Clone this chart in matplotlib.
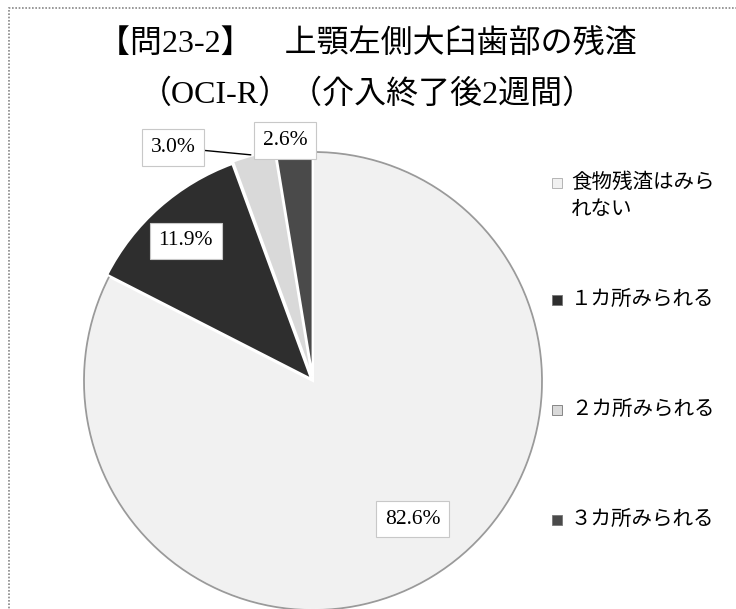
import matplotlib
matplotlib.use("Agg")
import matplotlib.pyplot as plt
from matplotlib.patches import Rectangle, Arc
import numpy as np

# ---- data ----
categories = ['食物残渣はみられない', '１カ所みられる', '２カ所みられる', '３カ所みられる']
legend_labels = ['食物残渣はみら\nれない', '１カ所みられる', '２カ所みられる', '３カ所みられる']
values = [82.6, 11.9, 3.0, 2.6]
pct_labels = ['82.6%', '11.9%', '3.0%', '2.6%']
title_lines = ['【問23-2】　上顎左側大臼歯部の残渣', '（OCI-R）（介入終了後2週間）']

# ---- style ----
colors = ['#f1f1f1', '#2e2e2e', '#d9d9d9', '#4a4a4a']
explode = [0.0, 0.012, 0.02, 0.02]
label_pos = [(0.435, -0.603), (-0.556, 0.612), (-0.612, 1.02), (-0.121, 1.05)]
serif_cjk = ['Liberation Serif', 'Noto Sans CJK JP']
sans_cjk = ['Noto Sans CJK JP', 'DejaVu Sans']

W, H = 736, 609
fig = plt.figure(figsize=(W / 100, H / 100), dpi=100)

# outer frame
fig.patches.append(Rectangle((9 / W, -0.01), 1.0, (H - 8) / H + 0.01, transform=fig.transFigure,
                             fill=False, ec='#888888', lw=1.2, ls=(0, (1, 1))))

cx, cy, r = 313, 381, 229
ax = fig.add_axes([(cx - r) / W, (H - cy - r) / H, 2 * r / W, 2 * r / H])

wedges, _ = ax.pie(values, colors=colors, explode=explode, startangle=90,
                   counterclock=False, radius=1.0,
                   wedgeprops=dict(edgecolor='white', linewidth=1.5))
ax.set_xlim(-1, 1)
ax.set_ylim(-1, 1)
ax.set_aspect('equal')
ax.axis('off')

# grey rim on the big light slice
w0 = wedges[0]
ax.add_patch(Arc(w0.center, 2 * w0.r, 2 * w0.r, theta1=w0.theta1, theta2=w0.theta2,
                 color='#9a9a9a', lw=1.3, clip_on=False))
for w in wedges:
    w.set_clip_on(False)

for i, (w, txt, pos) in enumerate(zip(wedges, pct_labels, label_pos)):
    bbox = dict(boxstyle='square,pad=0.4', fc='white', ec='#c8c8c8', lw=0.8)
    if i == 2:
        ang = np.deg2rad((w.theta1 + w.theta2) / 2)
        tip = (w.center[0] + w.r * np.cos(ang), w.center[1] + w.r * np.sin(ang))
        ax.annotate(txt, xy=tip, xytext=pos, fontsize=15.5, family=serif_cjk,
                    ha='center', va='center', bbox=bbox, annotation_clip=False,
                    arrowprops=dict(arrowstyle='-', color='black', lw=1.0,
                                    shrinkA=0, shrinkB=2))
    else:
        ax.text(pos[0], pos[1], txt, fontsize=15.5, family=serif_cjk,
                ha='center', va='center', bbox=bbox)

# title
fig.text(367 / W, 1 - 45 / H, title_lines[0], fontsize=23, family=serif_cjk,
         ha='center', va='center')
fig.text(367 / W, 1 - 95 / H, title_lines[1], fontsize=23, family=serif_cjk,
         ha='center', va='center')

# legend
leg_y = [183, 300, 410, 520]
for lab, col, y in zip(legend_labels, colors, leg_y):
    s = 10
    fig.patches.append(Rectangle((552 / W, 1 - (y + s / 2) / H), s / W, s / H,
                                 transform=fig.transFigure, fc=col,
                                 ec='#777777' if col != colors[0] else '#aaaaaa', lw=0.6))
    fig.text(571 / W, 1 - (y - 12) / H, lab, fontsize=14.8, family=sans_cjk,
             ha='left', va='top', linespacing=1.3)

fig.savefig('out.png', dpi=100)
